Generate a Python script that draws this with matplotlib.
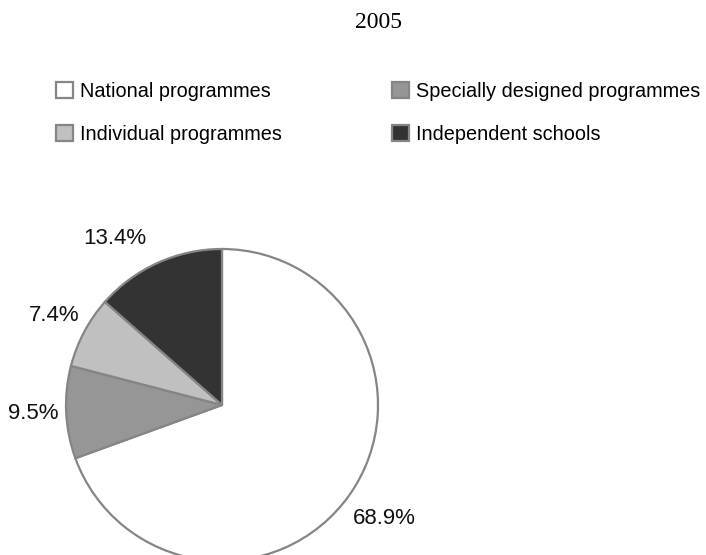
import numpy as np
import matplotlib
matplotlib.use("Agg")
import matplotlib.pyplot as plt
from matplotlib.patches import Patch

# =========================
# Data
# =========================
TITLE = "2005"
CATEGORIES = [
    "National programmes",
    "Specially designed programmes",
    "Individual programmes",
    "Independent schools",
]
SHARES = [68.9, 9.5, 7.4, 13.4]
LABELS = ["68.9%", "9.5%", "7.4%", "13.4%"]

COLORS = ["#ffffff", "#969696", "#c0c0c0", "#333333"]
EDGE = "#858585"
SANS = "Liberation Sans"

W, H = 706, 555
fig = plt.figure(figsize=(W / 100, H / 100), dpi=100)
ax = fig.add_axes([0, 0, 1, 1])

# pie in pixel coordinates (y up)
cx, cy, r = 222, H - 405, 156
wedges, _ = ax.pie(SHARES, colors=COLORS, startangle=90, counterclock=False,
                   center=(cx, cy), radius=r, frame=True,
                   wedgeprops=dict(edgecolor=EDGE, linewidth=1.6))
ax.set_xlim(0, W)
ax.set_ylim(0, H)
ax.set_aspect("equal")
ax.axis("off")

# data labels outside the wedges
label_r = [1.27, 1.21, 1.22, 1.17]
label_ha = ["center", "center", "center", "right"]
for w, lab, lr, ha in zip(wedges, LABELS, label_r, label_ha):
    mid = np.deg2rad((w.theta1 + w.theta2) / 2)
    ax.text(cx + lr * r * np.cos(mid), cy + lr * r * np.sin(mid), lab,
            ha=ha, va="center", fontsize=16, family=SANS, color="#111111")

fig.text(378 / W, 1 - 23 / H, TITLE, ha="center", va="center",
         fontsize=17, family="Liberation Serif")

# legend is filled row by row in the reference (2 columns)
order = [0, 2, 1, 3]
handles = [Patch(facecolor=COLORS[i], edgecolor=EDGE, linewidth=1.6) for i in order]
fig.legend(handles, [CATEGORIES[i] for i in order], ncol=2, loc="upper left",
           bbox_to_anchor=(56 / W, 1 - 82 / H), frameon=False,
           prop={"family": SANS, "size": 14.3},
           handlelength=0.85, handleheight=0.85, handletextpad=0.35,
           columnspacing=5.55, labelspacing=1.2,
           borderpad=0, borderaxespad=0)

fig.savefig("out.png", dpi=100)
